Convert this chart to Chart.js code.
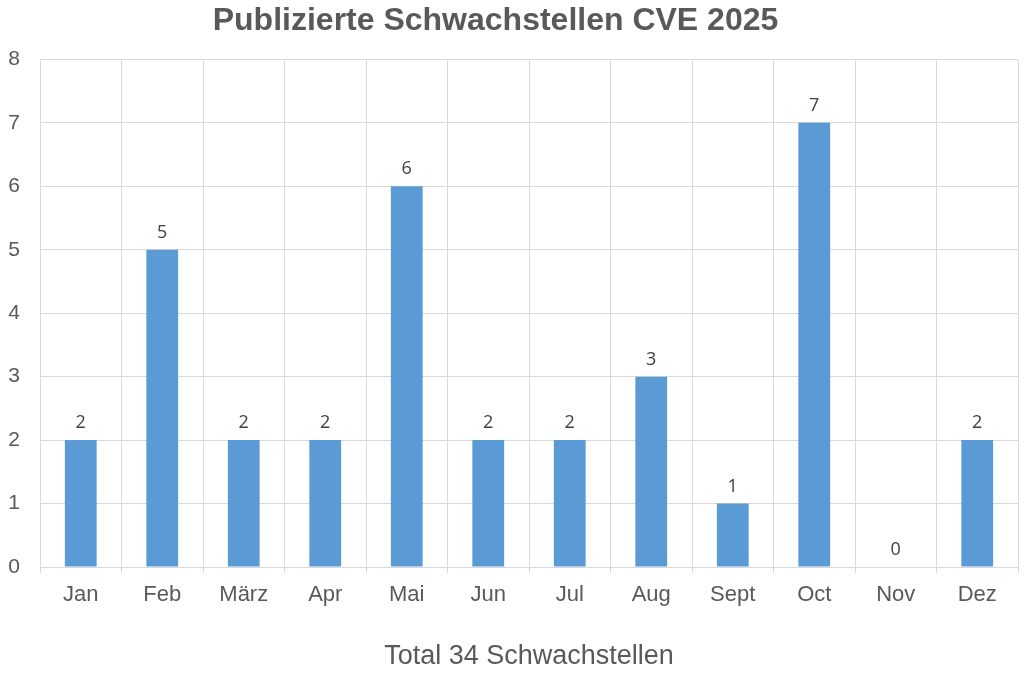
<!DOCTYPE html>
<html>
<head>
<meta charset="utf-8">
<script src="https://cdn.jsdelivr.net/npm/chart.js@4/dist/chart.umd.min.js"></script>
<style>
  html, body { margin: 0; padding: 0; background: #fff; }
  #wrap { width: 1024px; height: 676px; }
</style>
</head>
<body>
<div id="wrap"><canvas id="cve"></canvas></div>
<script>
const months = ['Jan', 'Feb', 'März', 'Apr', 'Mai', 'Jun', 'Jul', 'Aug', 'Sept', 'Oct', 'Nov', 'Dez']
const published = [2, 5, 2, 2, 6, 2, 2, 3, 1, 7, 0, 2]
const yTicks = [0, 1, 2, 3, 4, 5, 6, 7, 8]

const chartTitle = 'Publizierte Schwachstellen CVE 2025'
const axisTitle = 'Total 34 Schwachstellen'

const textGrey = '#595959'
const gridGrey = '#d9d9d9'
const barBlue = '#5b9bd5'

// draws the value above each bar, like the data labels in excel
const valueLabels = {
    id: 'valueLabels',
    afterLayout: function (chart) {
        // the original title sits a bit left of the middle
        if (chart.titleBlock) chart.titleBlock.right -= 27
    },
    afterDatasetsDraw: function (chart) {
        const ctx = chart.ctx
        const meta = chart.getDatasetMeta(0)
        ctx.save()
        ctx.font = '18px "Open Sans", "Noto Sans", sans-serif'
        ctx.fillStyle = '#404040'
        ctx.textAlign = 'center'
        ctx.textBaseline = 'bottom'
        meta.data.forEach(function (bar, i) {
            ctx.fillText(String(published[i]), bar.x, bar.y - 8)
        })
        ctx.restore()
    }
}

new Chart(document.getElementById('cve'), {
    type: 'bar',
    data: {
        labels: months,
        datasets: [{
            label: 'CVE',
            data: published,
            backgroundColor: barBlue,
            borderWidth: 0,
            categoryPercentage: 1,
            barPercentage: 0.39
        }]
    },
    options: {
        responsive: true,
        maintainAspectRatio: false,
        animation: false,
        layout: {
            padding: { left: 0, right: 6, top: 0, bottom: 0 }
        },
        plugins: {
            legend: { display: false },
            tooltip: { enabled: false },
            title: {
                display: true,
                text: chartTitle,
                color: textGrey,
                font: { family: '"Liberation Sans", Arial, sans-serif', size: 32, weight: 'bold' },
                padding: { top: 2, bottom: 19 }
            }
        },
        scales: {
            x: {
                afterFit: function (scale) { scale.height = 109 },
                grid: {
                    color: gridGrey,
                    lineWidth: 1,
                    offset: true,
                    drawTicks: true,
                    tickLength: 6
                },
                border: { color: gridGrey },
                ticks: {
                    color: textGrey,
                    padding: 9,
                    maxRotation: 0,
                    font: { family: '"Liberation Sans", Arial, sans-serif', size: 22 }
                },
                title: {
                    display: true,
                    text: axisTitle,
                    color: textGrey,
                    font: { family: '"Liberation Sans", Arial, sans-serif', size: 27 },
                    padding: { top: 20, bottom: 3 }
                }
            },
            y: {
                min: 0,
                max: 8,
                afterFit: function (scale) { scale.width = 40 },
                afterBuildTicks: function (scale) {
                    scale.ticks = yTicks.map(function (v) { return { value: v } })
                },
                grid: {
                    color: gridGrey,
                    lineWidth: 1,
                    drawTicks: false
                },
                border: { color: gridGrey },
                ticks: {
                    color: textGrey,
                    padding: 20,
                    font: { family: '"Liberation Sans", Arial, sans-serif', size: 21 }
                }
            }
        }
    },
    plugins: [valueLabels]
});
</script>
</body>
</html>
